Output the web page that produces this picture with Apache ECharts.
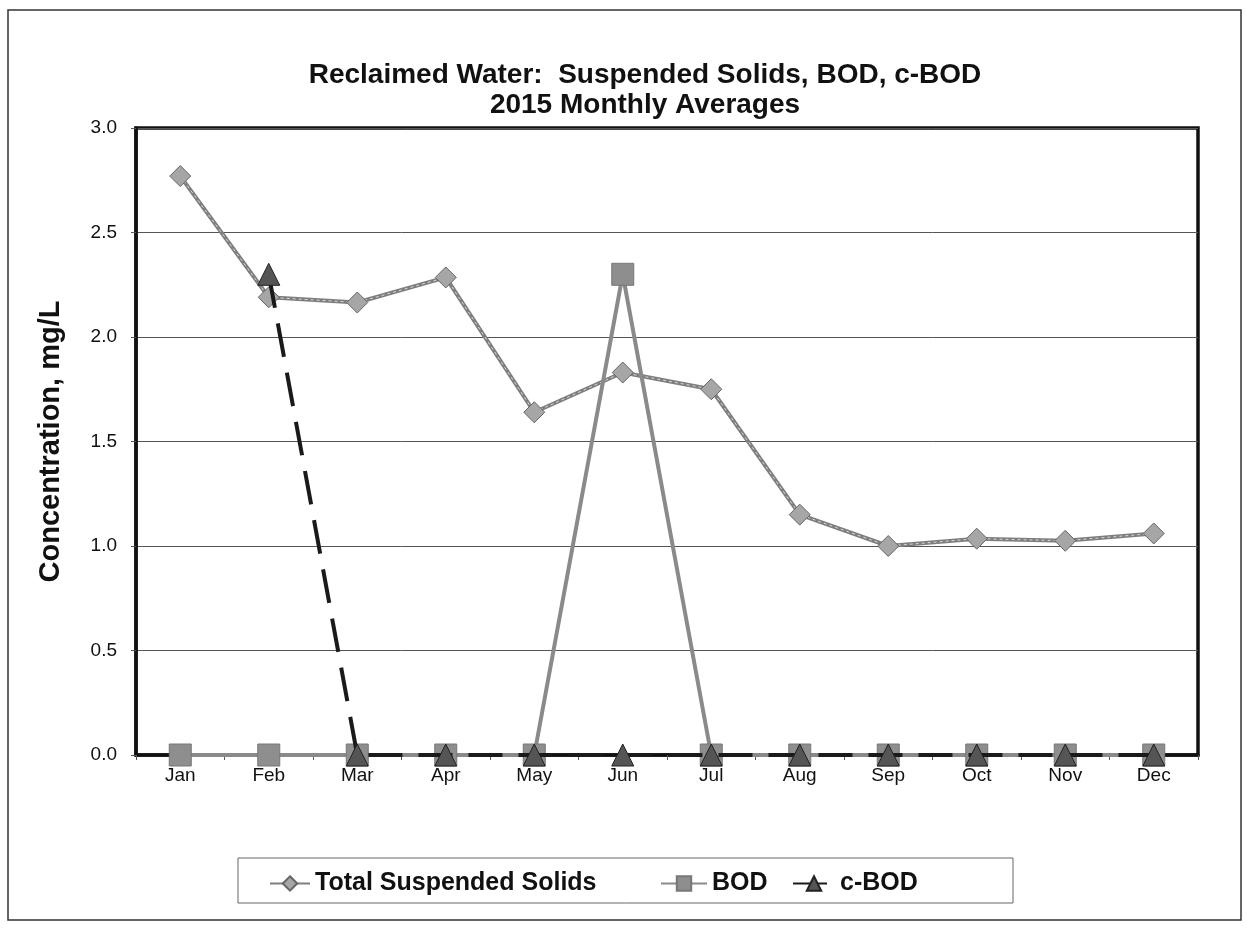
<!DOCTYPE html>
<html>
<head>
<meta charset="utf-8">
<script src="https://cdn.jsdelivr.net/npm/echarts@6/dist/echarts.min.js"></script>
<style>
html,body{margin:0;padding:0;background:#fff;}
#chart{width:1247px;height:928px;}
</style>
</head>
<body>
<div id="chart"></div>
<script>
var months = ['Jan','Feb','Mar','Apr','May','Jun','Jul','Aug','Sep','Oct','Nov','Dec'];
var tss = [2.77, 2.19, 2.165, 2.285, 1.64, 1.83, 1.75, 1.15, 1.00, 1.035, 1.025, 1.06];
var bod = [0, 0, 0, 0, 0, 2.3, 0, 0, 0, 0, 0, 0];
var cbod = [null, 2.3, 0, 0, 0, 0, 0, 0, 0, 0, 0, 0];
var seriesNames = ['Total Suspended Solids', 'BOD', 'c-BOD'];

var FONT = '"Liberation Sans", Arial, sans-serif';
var legendText = {fontFamily: FONT, fontSize: 25, fontWeight: 'bold', color: '#111'};
var chart = echarts.init(document.getElementById('chart'));
chart.setOption({
  backgroundColor: '#fff',
  animation: false,
  title: {
    text: 'Reclaimed Water:  Suspended Solids, BOD, c-BOD\n2015 Monthly Averages',
    left: 640, top: 55, textAlign: 'center',
    textStyle: {fontFamily: FONT, fontSize: 28, fontWeight: 'bold', color: '#111', lineHeight: 30}
  },
  graphic: [
    {type: 'rect', shape: {x: 8, y: 10, width: 1233, height: 910}, style: {fill: 'none', stroke: '#333', lineWidth: 1.5}, z: -1},
    {type: 'rect', shape: {x: 238, y: 858, width: 775, height: 45}, style: {fill: 'none', stroke: '#666', lineWidth: 1}, z: -1}
  ],
  legend: [
    {data: [seriesNames[0]], left: 264, top: 866, itemWidth: 40, itemHeight: 18, textStyle: legendText},
    {data: [seriesNames[1]], left: 655, top: 866, itemWidth: 46, itemHeight: 18, textStyle: legendText},
    {data: [seriesNames[2]], left: 787, top: 866, itemWidth: 42, itemHeight: 18, textStyle: legendText}
  ],
  grid: {left: 136, right: 49, top: 128, bottom: 173, show: true, borderColor: '#111', borderWidth: 3.5, backgroundColor: 'transparent'},
  xAxis: {
    type: 'category', data: months, boundaryGap: true,
    axisLine: {lineStyle: {color: '#111', width: 3.5}},
    axisTick: {show: true, length: 5, lineStyle: {color: '#555', width: 1}},
    axisLabel: {fontFamily: FONT, fontSize: 19, color: '#111', margin: 11},
    splitLine: {show: false}
  },
  yAxis: {
    type: 'value', min: 0, max: 3, interval: 0.5,
    name: 'Concentration, mg/L', nameLocation: 'middle', nameGap: 71,
    nameTextStyle: {fontFamily: FONT, fontSize: 29, fontWeight: 'bold', color: '#111'},
    axisLine: {show: true, lineStyle: {color: '#111', width: 3.5}},
    axisTick: {show: true, length: 5, lineStyle: {color: '#555', width: 1}},
    axisLabel: {fontFamily: FONT, fontSize: 19, color: '#111', margin: 19, formatter: function(v){return v.toFixed(1);}},
    splitLine: {show: true, lineStyle: {color: '#555', width: 1}}
  },
  series: [
    {
      name: seriesNames[0], type: 'line', data: tss,
      symbol: 'diamond', symbolSize: 21,
      itemStyle: {color: '#a6a6a6', borderColor: '#666', borderWidth: 1},
      lineStyle: {color: '#7e7e7e', width: 4}, z: 3
    },
    {
      type: 'line', data: tss, symbol: 'none', silent: true,
      lineStyle: {color: '#d8d8d8', width: 1, type: [3, 3]}, z: 3, zlevel: 0
    },
    {
      name: seriesNames[1], type: 'line', data: bod,
      symbol: 'rect', symbolSize: 22,
      itemStyle: {color: '#8e8e8e', borderColor: '#777', borderWidth: 1},
      lineStyle: {color: '#8a8a8a', width: 4}, z: 4
    },
    {
      name: seriesNames[2], type: 'line', data: cbod,
      symbol: 'triangle', symbolSize: 22,
      itemStyle: {color: '#555', borderColor: '#222', borderWidth: 1},
      lineStyle: {color: '#1a1a1a', width: 4, type: [34, 16]}, z: 5
    }
  ]
});
</script>
</body>
</html>
